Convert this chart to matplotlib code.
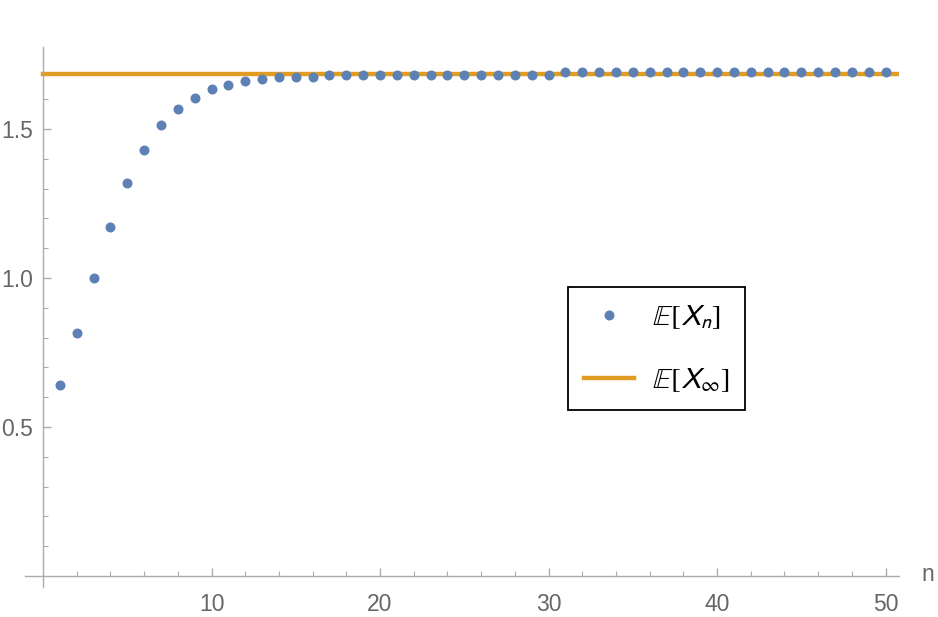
import numpy as np
import matplotlib
matplotlib.use('Agg')
import matplotlib.pyplot as plt

plt.rcParams['mathtext.fontset'] = 'stixsans'
plt.rcParams['font.family'] = ['Liberation Sans', 'DejaVu Sans']

# E[X_n] for n = 1..50
n_vals = np.arange(1, 51)
ex_n = [0.641, 0.815, 1.000, 1.171, 1.319, 1.430, 1.514, 1.569, 1.605, 1.633,
        1.647, 1.661, 1.668, 1.674, 1.674, 1.674, 1.681, 1.681, 1.681, 1.681,
        1.681, 1.681, 1.681, 1.681, 1.681, 1.681, 1.681, 1.681, 1.681, 1.681,
        1.690, 1.690, 1.690, 1.690, 1.690, 1.690, 1.690, 1.690, 1.690, 1.690,
        1.690, 1.690, 1.690, 1.690, 1.690, 1.690, 1.690, 1.690, 1.690, 1.690]
ex_inf = 1.686

x_major = [10, 20, 30, 40, 50]
x_minor = [v for v in range(2, 50, 2) if v % 10 != 0]
y_major = [0.5, 1.0, 1.5]
y_minor = [0.1, 0.2, 0.3, 0.4, 0.6, 0.7, 0.8, 0.9, 1.1, 1.2, 1.3, 1.4, 1.6]

blue = '#5E81B5'
orange = '#E19C24'
axis_col = '#ABABAB'
text_col = '#666666'

fig = plt.figure(figsize=(9.38, 6.17), dpi=100)
ax = fig.add_axes([0.027, 0.0486, 0.9315, 0.875])

ax.plot([0, 52], [ex_inf, ex_inf], color=orange, lw=3.2, zorder=2,
        label=r'$\mathbb{E}[X_\infty]$')
ax.plot(n_vals, ex_n, 'o', color=blue, ms=7.2, mec='none', zorder=3,
        label=r'$\mathbb{E}[X_n]$')

ax.set_xlim(-1.05, 50.8)
ax.set_ylim(-0.037, 1.775)

for s in ['top', 'right']:
    ax.spines[s].set_visible(False)
ax.spines['left'].set_position(('data', 0))
ax.spines['bottom'].set_position(('data', 0))
for s in ['left', 'bottom']:
    ax.spines[s].set_color(axis_col)
    ax.spines[s].set_linewidth(1.0)

ax.set_xticks(x_major)
ax.set_xticks(x_minor, minor=True)
ax.set_yticks(y_major)
ax.set_yticks(y_minor, minor=True)
ax.set_yticklabels(['0.5', '1.0', '1.5'])
ax.tick_params(which='both', direction='in', color=axis_col, labelcolor=text_col,
               labelsize=16.5)
ax.tick_params(which='major', length=6, width=1.0)
ax.tick_params(which='minor', length=3.3, width=0.8)
ax.tick_params(axis='x', pad=12)
ax.tick_params(axis='y', pad=7)

ax.annotate('n', xy=(1, 0), xycoords=('axes fraction', 'data'),
            xytext=(16, 1), textcoords='offset points', va='center',
            ha='left', fontsize=16.5, color=text_col)

handles, labels = ax.get_legend_handles_labels()
leg = ax.legend(handles[::-1], labels[::-1], loc='upper left',
                bbox_to_anchor=(568 / 938, 1 - 287 / 617),
                bbox_transform=fig.transFigure, borderaxespad=0,
                fontsize=21, numpoints=1, handlelength=1.71, handletextpad=0.62,
                labelspacing=1.2, borderpad=0.55, fancybox=False,
                edgecolor='black', framealpha=1)
leg.get_frame().set_linewidth(1.3)

fig.savefig('out.png', dpi=100)
